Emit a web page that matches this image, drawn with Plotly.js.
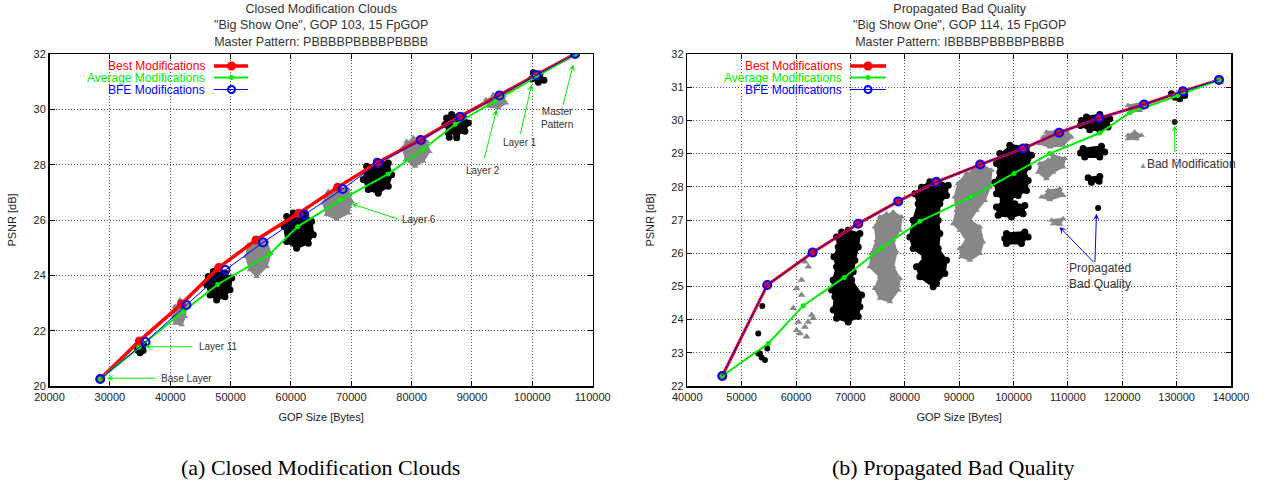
<!DOCTYPE html>
<html>
<head>
<meta charset="utf-8">
<script src="https://cdn.plot.ly/plotly-3.0.1.min.js"></script>
<style>
  html, body { margin: 0; padding: 0; background: #fff; }
  #chart { width: 1264px; height: 488px; }
</style>
</head>
<body>
<div id="chart"></div>
<script>
// ---------------- (a) Closed Modification Clouds ----------------
const aBestX = [28400, 34900, 41850, 48030, 54220, 61280, 67730, 74300, 81450, 88000, 94500, 100600, 107090];
const aBestY = [20.25, 21.63, 22.96, 24.28, 25.28, 26.24, 27.18, 28.07, 28.90, 29.74, 30.51, 31.24, 32.0];
const aAvgX  = [28400, 34790, 42130, 47860, 56470, 61110, 68180, 76080, 81870, 87220, 93840, 100300, 107090];
const aAvgY  = [20.25, 21.40, 22.69, 23.67, 24.76, 25.76, 26.72, 27.66, 28.55, 29.46, 30.31, 31.15, 32.0];
const aBfeX  = [28400, 35900, 42680, 49140, 55380, 62220, 68580, 74420, 81540, 88040, 94550, 100630, 107090];
const aBfeY  = [20.25, 21.59, 22.93, 24.19, 25.19, 26.18, 27.12, 28.05, 28.89, 29.73, 30.50, 31.23, 32.0];

// cloud outlines (x, psnr)
const aCloudL1 = [[34500,21.45],[35000,21.62],[35600,21.5],[35500,21.28],[35000,21.2],[34600,21.3]];
const aCloudL2 = [[41619,23.11],[42723,22.93],[42447,22.51],[41895,22.21],[40791,22.27],[40238,22.57],[40791,22.87]];
const aCloudL3 = [[47141,24.14],[49074,24.08],[50179,23.90],[49903,23.48],[49074,23.23],[47693,23.11],[46589,23.29],[46036,23.66],[46313,23.96]];
const aCloudL4 = [[54319,25.28],[55976,25.22],[56639,24.80],[55976,24.32],[54319,23.96],[53215,24.20],[52552,24.68],[52939,25.10]];
const aCloudL5 = [[60394,26.25],[62326,26.25],[63431,25.95],[63707,25.47],[62878,25.16],[60946,24.98],[59289,25.22],[58847,25.77],[59289,26.13]];
const aCloudL6 = [[67575,27.22],[69508,27.10],[70060,26.67],[69508,26.25],[67575,26.03],[65919,26.19],[65366,26.61],[66195,27.03]];
const aCloudL7 = [[74202,28.12],[76134,28.06],[76687,27.64],[76134,27.22],[74478,26.97],[72821,27.10],[71993,27.46],[72545,27.94]];
const aCloudL8 = [[80276,28.97],[82485,28.84],[82927,28.48],[81933,28.12],[80552,27.94],[79061,28.18],[78509,28.60],[79171,28.84]];
const aCloudL9 = [[86626,29.81],[88559,29.75],[89387,29.51],[88835,29.21],[87455,29.09],[86075,29.15],[85522,29.45],[85798,29.69]];
const aCloudL9b = [[86240,28.99],[87455,28.97]];
const aCloudL10 = [[93529,30.53],[95185,30.47],[95627,30.23],[94357,30.05],[92700,30.11],[92314,30.35]];
const aCloudL11 = [[100155,31.32],[101260,31.29],[101923,31.05],[100984,30.98],[99879,31.10]];

// ---------------- (b) Propagated Bad Quality ----------------
const bBestX = [46430, 54710, 63050, 71430, 78790, 85720, 93870, 101760, 108380, 115740, 124010, 131180, 137800];
const bBestY = [22.30, 25.04, 26.02, 26.89, 27.56, 28.14, 28.67, 29.15, 29.63, 30.07, 30.48, 30.88, 31.22];
const bAvgX  = [46430, 54890, 61320, 68860, 75730, 82780, 92100, 100110, 106670, 115860, 121380, 130260, 137800];
const bAvgY  = [22.30, 23.28, 24.42, 25.27, 26.16, 26.96, 27.69, 28.40, 29.00, 29.62, 30.23, 30.75, 31.22];
const bBfeX  = [46430, 54710, 63050, 71430, 78790, 85720, 93870, 101760, 108380, 115740, 124010, 131180, 137800];
const bBfeY  = [22.30, 25.04, 26.02, 26.89, 27.56, 28.14, 28.67, 29.15, 29.63, 30.07, 30.48, 30.88, 31.22];

const bBlackDots = [[53792,24.41],[53056,23.58],[53363,22.98],[54282,22.78],[54711,23.13],[53670,22.86],[53056,22.98]];
const bGrayDots = [[61634,25.74],[62247,25.59],[61021,25.19],[60102,24.94],[61021,24.74],[59489,24.34],[62860,24.14],
                   [60408,23.93],[61634,23.78],[60714,23.58],[61940,23.48],[60102,23.68],[63166,24.04],[62247,23.93]];
const bCloudA = [[69599,26.69],[71744,26.59],[71437,26.19],[70825,25.79],[70518,25.44],[70212,25.19],[72050,24.74],[71744,24.39],
                 [71437,24.09],[69599,23.93],[67455,24.04],[66842,24.29],[67149,24.69],[66536,24.89],[66842,25.19],[67455,25.59],
                 [66965,25.89],[67761,26.19],[67455,26.49],[68374,26.64]];
const bCloudC = [[77871,27.24],[79403,27.09],[79096,26.69],[77871,26.39],[78484,26.04],[77871,25.59],[79096,25.24],[78790,24.89],
                 [77258,24.54],[75420,24.64],[74500,24.94],[75420,25.29],[73582,25.59],[73889,25.99],[74808,26.39],[74500,26.79],
                 [75420,27.09],[76645,27.19]];
const bCloudD = [[85836,28.20],[87980,28.05],[87674,27.74],[86448,27.49],[86142,26.99],[86448,26.59],[86142,26.14],[87674,25.79],
                 [87367,25.39],[85836,25.09],[85223,24.99],[82772,25.29],[82159,25.59],[83690,25.89],[81546,26.14],[80933,26.49],
                 [81546,26.99],[82465,27.49],[81852,27.79],[83078,27.99],[84610,28.15]];
const bCloudE = [[93803,28.70],[95947,28.50],[95641,27.99],[94722,27.59],[93190,27.29],[91965,26.99],[93803,26.79],[94415,26.34],
                 [93803,25.99],[91965,25.79],[90433,25.89],[90126,26.14],[91352,26.39],[90126,26.69],[88901,26.89],[89514,27.29],
                 [89207,27.69],[89820,28.10],[91352,28.40]];
const bCloudF = [[99320,29.25],[102383,29.20],[103302,28.95],[102690,28.60],[102077,28.29],[102690,28.19],[102383,27.89],[100851,27.74],
                 [99320,27.64],[100239,27.49],[102077,27.44],[101770,27.19],[99626,27.09],[97175,27.14],[96869,27.39],[98094,27.59],
                 [96869,27.79],[96562,28.14],[97481,28.44],[96869,28.70],[97481,29.0]];
const bCloudF2 = [[98707,26.59],[102077,26.64],[102690,26.49],[101464,26.29],[98707,26.29],[98400,26.44]];
const bCloudG1 = [[106059,29.65],[109735,29.70],[110654,29.50],[109122,29.25],[106672,29.20],[104834,29.30],[105446,29.50]];
const bCloudG2 = [[107285,28.95],[109429,28.85],[109122,28.60],[107285,28.44],[106059,28.24],[104528,28.44],[104834,28.70],[106365,28.80]];
const bCloudG3 = [[106365,27.89],[108510,27.94],[109122,27.74],[106672,27.61],[105140,27.69]];
const bCloudG4 = [[106978,26.99],[109122,27.04],[108510,26.87],[107285,26.89]];
const bCloudH1 = [[113415,30.10],[115865,30.18],[117703,30.05],[117397,29.80],[115865,29.70],[114027,29.72],[112312,29.85],[112496,30.0]];
const bCloudH2 = [[112802,29.15],[116172,29.22],[116785,29.05],[115865,28.90],[113108,28.90],[112312,29.02]];
const bCloudH3 = [[113720,28.27],[115865,28.31],[115743,28.17],[114333,28.14]];
const bCloudH4 = [[115557,27.36]];
const bCloudI1 = [[121070,30.45],[123521,30.52],[124440,30.40],[123215,30.30],[121377,30.25]];
const bCloudI2 = [[121070,29.55],[122296,29.65],[123521,29.55],[122602,29.45],[121070,29.45]];
const bCloudJ = [[129036,30.80],[131487,30.75],[130568,30.65],[129700,30.70]];
const bBadMod = [[129649,29.95]];

// ---------------- build ----------------
const BLACK = '#000000', GRAY = '#878787';
const RED = '#ff0000', GREEN = '#00ee00', BLUE = '#0000ff';
const SANS = 'Liberation Sans, Arial, sans-serif';
const traces = [];

function blob(pts, color, symbol, xa, ya, size) {
  traces.push({
    x: pts.map(p => p[0]), y: pts.map(p => p[1]), xaxis: xa, yaxis: ya,
    mode: 'lines+markers', fill: 'toself', fillcolor: color,
    line: {color: color, width: 2}, marker: {color: color, size: size, symbol: symbol},
    hoverinfo: 'skip', showlegend: false
  });
}
function dots(pts, color, symbol, xa, ya, size) {
  traces.push({
    x: pts.map(p => p[0]), y: pts.map(p => p[1]), xaxis: xa, yaxis: ya,
    mode: 'markers', marker: {color: color, size: size, symbol: symbol},
    hoverinfo: 'skip', showlegend: false
  });
}
function curves(bx, by, ax_, ay_, fx, fy, xa, ya, redW) {
  traces.push({x: bx, y: by, xaxis: xa, yaxis: ya, mode: 'lines+markers', name: 'Best Modifications',
    line: {color: RED, width: redW}, marker: {color: RED, size: 9, symbol: 'circle'}, showlegend: false});
  traces.push({x: ax_, y: ay_, xaxis: xa, yaxis: ya, mode: 'lines+markers', name: 'Average Modifications',
    line: {color: GREEN, width: 2}, marker: {color: GREEN, size: 5, symbol: 'circle'}, showlegend: false});
  traces.push({x: fx, y: fy, xaxis: xa, yaxis: ya, mode: 'lines+markers', name: 'BFE Modifications',
    line: {color: BLUE, width: 1}, marker: {color: BLUE, size: 8, symbol: 'circle-open', line: {color: BLUE, width: 2}}, showlegend: false});
}

// left clouds
[aCloudL1, aCloudL3, aCloudL5, aCloudL7, aCloudL9, aCloudL11].forEach(c => blob(c, BLACK, 'circle', 'x', 'y', 7));
dots(aCloudL9b, BLACK, 'circle', 'x', 'y', 7);
[aCloudL2, aCloudL4, aCloudL6, aCloudL8, aCloudL10].forEach(c => blob(c, GRAY, 'triangle-up', 'x', 'y', 6));
curves(aBestX, aBestY, aAvgX, aAvgY, aBfeX, aBfeY, 'x', 'y', 3.5);

// right clouds
[bCloudC, bCloudE, bCloudG1, bCloudG2, bCloudG3, bCloudG4, bCloudI1, bCloudI2].forEach(c => blob(c, GRAY, 'triangle-up', 'x2', 'y2', 6));
dots(bGrayDots, GRAY, 'triangle-up', 'x2', 'y2', 7);
[bCloudA, bCloudD, bCloudF, bCloudF2, bCloudH1, bCloudH2, bCloudH3, bCloudJ].forEach(c => blob(c, BLACK, 'circle', 'x2', 'y2', 7));
dots(bBlackDots, BLACK, 'circle', 'x2', 'y2', 6);
dots(bCloudH4, BLACK, 'circle', 'x2', 'y2', 6);
dots(bBadMod, '#222', 'circle', 'x2', 'y2', 6);
curves(bBestX, bBestY, bAvgX, bAvgY, bBfeX, bBfeY, 'x2', 'y2', 3);

// ---------------- layout ----------------
const W = 1264, H = 488;
const px = v => v / W, py = v => 1 - v / H;

function axisX(range, dom, anchor) {
  return {domain: dom, range: range, dtick: 10000, tick0: 0, tickformat: 'd', anchor: anchor,
    showline: true, mirror: 'ticks', linecolor: '#000', linewidth: 1.5,
    ticks: 'inside', ticklen: 5, tickcolor: '#000', tickwidth: 1,
    showgrid: true, gridcolor: '#555', griddash: '1px,2px', gridwidth: 1, zeroline: false,
    tickfont: {family: SANS, size: 11, color: '#222'},
    title: {text: 'GOP Size [Bytes]', font: {family: SANS, size: 11, color: '#222'}, standoff: 11}};
}
function axisY(range, dtick, anchor) {
  return {domain: [py(386), py(54)], range: range, dtick: dtick, anchor: anchor,
    showline: true, mirror: 'ticks', linecolor: '#000', linewidth: 1.5,
    ticks: 'inside', ticklen: 5, tickcolor: '#000', tickwidth: 1,
    showgrid: true, gridcolor: '#555', griddash: '1px,2px', gridwidth: 1, zeroline: false,
    tickfont: {family: SANS, size: 11, color: '#222'},
    title: {text: 'PSNR [dB]', font: {family: SANS, size: 11, color: '#222'}, standoff: 14}};
}

const ann = [];
function txt(x, y, text, opts) {
  ann.push(Object.assign({x: x, y: y, text: text, showarrow: false,
    font: {family: SANS, size: 10, color: '#333'}}, opts));
}
function arrow(xref, yref, hx, hy, tx, ty, color) {
  ann.push({x: hx, y: hy, ax: tx, ay: ty, xref: xref, yref: yref, axref: xref, ayref: yref,
    text: '', showarrow: true, arrowhead: 3, arrowsize: 1.2, arrowwidth: 1, arrowcolor: color});
}

// titles
const titleFont = {family: SANS, size: 12.5, color: '#333'};
const titleA = ['Closed Modification Clouds', '"Big Show One", GOP 103, 15 FpGOP', 'Master Pattern: PBBBBPBBBBPBBBB'];
const titleB = ['Propagated Bad Quality', '"Big Show One", GOP 114, 15 FpGOP', 'Master Pattern: IBBBBPBBBBPBBBB'];
txt(px(321), py(25), titleA.join('<br>'), {xref: 'paper', yref: 'paper', xanchor: 'center', yanchor: 'middle', font: titleFont});
txt(px(959), py(25), titleB.join('<br>'), {xref: 'paper', yref: 'paper', xanchor: 'center', yanchor: 'middle', font: titleFont});

// captions
const capFont = {family: 'Liberation Serif, Times New Roman, serif', size: 22, color: '#000'};
txt(px(320), py(467), '(a) Closed Modification Clouds', {xref: 'paper', yref: 'paper', xanchor: 'center', yanchor: 'middle', font: capFont});
txt(px(953), py(467), '(b) Propagated Bad Quality', {xref: 'paper', yref: 'paper', xanchor: 'center', yanchor: 'middle', font: capFont});

// legends (manual: text right, sample right of text)
const shapes = [];
function legend(textRight, x0, x1, xm) {
  const rows = [
    {t: 'Best Modifications', c: RED, w: 3.5, r: 4.5, fill: RED, y: 66},
    {t: 'Average Modifications', c: GREEN, w: 2, r: 2.5, fill: GREEN, y: 77.5},
    {t: 'BFE Modifications', c: BLUE, w: 1, r: 3.5, fill: 'rgba(0,0,0,0)', y: 89.5}
  ];
  rows.forEach(r => {
    txt(px(textRight), py(r.y), r.t, {xref: 'paper', yref: 'paper', xanchor: 'right', yanchor: 'middle',
      font: {family: SANS, size: 12, color: r.c}});
    shapes.push({type: 'line', xref: 'paper', yref: 'paper', x0: px(x0), x1: px(x1), y0: py(r.y), y1: py(r.y),
      line: {color: r.c, width: r.w}});
    shapes.push({type: 'circle', xref: 'paper', yref: 'paper', xsizemode: 'pixel', ysizemode: 'pixel',
      xanchor: px(xm), yanchor: py(r.y), x0: -r.r, x1: r.r, y0: -r.r, y1: r.r,
      fillcolor: r.fill, line: {color: r.c, width: r.fill === RED || r.fill === GREEN ? 0 : 2}});
  });
}
legend(207, 214, 248, 231.5);
legend(844, 850, 886, 868);

// left annotations
arrow('x', 'y', 29526, 20.28, 37810, 20.28, GREEN);
txt(38200, 20.28, 'Base Layer', {xref: 'x', yref: 'y', xanchor: 'left', yanchor: 'middle'});
arrow('x', 'y', 35820, 21.42, 43940, 21.42, GREEN);
txt(44500, 21.42, 'Layer 11', {xref: 'x', yref: 'y', xanchor: 'left', yanchor: 'middle'});
arrow('x', 'y', 70065, 26.59, 78068, 26.01, GREEN);
txt(78100, 26.01, 'Layer 6', {xref: 'x', yref: 'y', xanchor: 'left', yanchor: 'middle'});
arrow('x', 'y', 94085, 29.99, 91985, 28.18, GREEN);
txt(91900, 27.80, 'Layer 2', {xref: 'x', yref: 'y', xanchor: 'center', yanchor: 'middle'});
arrow('x', 'y', 99885, 30.90, 97950, 29.05, GREEN);
txt(97950, 28.80, 'Layer 1', {xref: 'x', yref: 'y', xanchor: 'center', yanchor: 'middle'});
arrow('x', 'y', 106780, 31.62, 105020, 30.11, GREEN);
txt(104100, 29.68, 'Master<br>Pattern', {xref: 'x', yref: 'y', xanchor: 'center', yanchor: 'middle'});

// right annotations
arrow('x2', 'y2', 129651, 29.85, 129651, 29.0, GREEN);
txt(122665, 28.68, '<span style="color:#878787;font-size:8px">▲</span>Bad Modification',
    {xref: 'x2', yref: 'y2', xanchor: 'left', yanchor: 'middle', font: {family: SANS, size: 12, color: '#333'}});
arrow('x2', 'y2', 108474, 26.79, 114963, 25.69, BLUE);
arrow('x2', 'y2', 115257, 27.19, 114963, 25.69, BLUE);
txt(109853, 25.31, 'Propagated<br>Bad Quality',
    {xref: 'x2', yref: 'y2', xanchor: 'left', yanchor: 'middle', align: 'left', font: {family: SANS, size: 12, color: '#333'}});

const layout = {
  width: W, height: H,
  margin: {l: 0, r: 0, t: 0, b: 0},
  paper_bgcolor: '#fff', plot_bgcolor: '#fff',
  showlegend: false,
  xaxis: axisX([20000, 110000], [px(49.5), px(592.7)], 'y'),
  yaxis: axisY([20, 32], 2, 'x'),
  xaxis2: axisX([40000, 140000], [px(687.3), px(1231)], 'y2'),
  yaxis2: axisY([22, 32], 1, 'x2'),
  annotations: ann,
  shapes: shapes
};

Plotly.newPlot('chart', traces, layout, {staticPlot: true, displayModeBar: false});
</script>
</body>
</html>
